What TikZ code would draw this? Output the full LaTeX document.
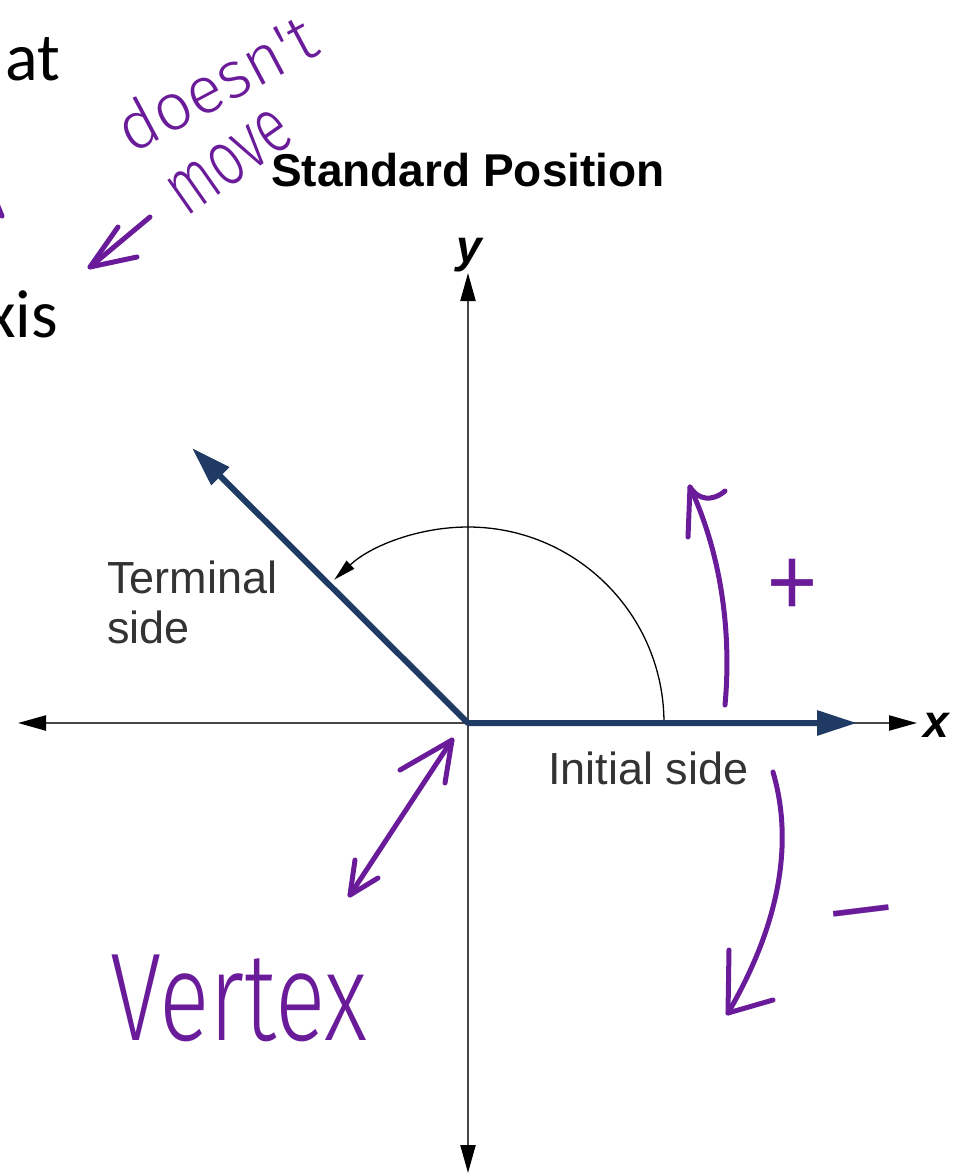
\documentclass[tikz,border=0pt]{standalone}
\usepackage{fontspec}
\setmainfont{Liberation Sans}
\newfontfamily\hand{Fira Sans Light}
\newfontfamily\slide{Carlito}
\usetikzlibrary{arrows.meta}
\definecolor{navy}{HTML}{1F3B63}
\definecolor{pen}{HTML}{6A1B9A}
\definecolor{txtgray}{HTML}{333333}
\begin{document}
\begin{tikzpicture}[x=1pt,y=-1pt,
  axisline/.style={line width=2.2pt, draw=black!72,
     {Triangle[length=28pt,width=15pt,color=black]}-{Triangle[length=28pt,width=15pt,color=black]}},
  sideline/.style={line width=6pt, draw=navy, line join=round,
     {Triangle[length=40pt,width=24pt]}-{Triangle[length=40pt,width=24pt]}},
  anglearc/.style={line width=1.3pt, draw=black, -{Triangle[length=22pt,width=11pt]}},
  axlabel/.style={font=\bfseries\itshape\fontsize{46}{46}\selectfont, inner sep=0pt},
  grylabel/.style={font=\fontsize{45}{54}\selectfont, text=txtgray, inner sep=0pt},
  slidetext/.style={font=\slide\fontsize{68}{80}\selectfont, text=black, inner sep=0pt},
  pen/.style={draw=pen, line width=5pt, line cap=round, line join=round},
  handtext/.style={text=pen, inner sep=0pt}
]
\fill[white] (0,0) rectangle (955,1176);
\path[use as bounding box] (0,0) rectangle (955,1176);

% slide text fragments
\node[slidetext, anchor=base west] (at) at (5,80) {at};
\node[slidetext, anchor=base west] (xis) at (-14,337) {xis};

% title
\node[font=\bfseries\fontsize{46}{46}\selectfont, anchor=base, inner sep=0pt] (title) at (468,186) {Standard Position};

% axes
\coordinate (O) at (468,723);
\coordinate (XL) at (18,723);
\coordinate (XR) at (917,723);
\coordinate (YT) at (468,273);
\coordinate (YB) at (468,1173);
\draw[axisline] (XL) -- (XR);
\draw[axisline] (YB) -- (YT);
\node[axlabel] (ylab) at (469,255) {y};
\node[axlabel] (xlab) at (936,725) {x};

% angle arc
\coordinate (A0) at (664,723);
\draw[anglearc] (A0) arc[start angle=0, end angle=133, radius=196pt];

% terminal and initial sides
\coordinate (T) at (192,448);
\coordinate (I) at (857,723);
\draw[sideline] (T) -- (O) -- (I);

\node[grylabel, anchor=base west] (term1) at (107,593) {Terminal};
\node[grylabel, anchor=base west] (term2) at (107,643) {side};
\node[grylabel, anchor=base west] (init) at (548,784) {Initial side};

% handwritten notes
\node[handtext, font=\hand\fontsize{66}{66}\selectfont, rotate=28, anchor=base west] (doesnt) at (131,155) {doesn't};
\node[handtext, font=\hand\fontsize{56}{56}\selectfont, rotate=35, anchor=base west] (move) at (186,218) {\scalebox{1}[1.4]{move}};
\coordinate (mvtail) at (150,217);
\coordinate (mvtip) at (90,267);
\draw[pen] (mvtail) -- (mvtip);
\draw[pen] (118,227) -- (mvtip) -- (137,257);
\draw[pen] (-3,204) -- (2,216);

% vertex
\coordinate (vtop) at (452,740);
\coordinate (vbot) at (350,895);
\draw[pen] (vbot) -- (vtop);
\draw[pen] (400,770) -- (vtop) -- (445,783);
\draw[pen] (355,860) -- (vbot) -- (378,878);
\node[handtext, font=\hand\fontsize{125}{125}\selectfont, anchor=base west] (vertex) at (110,1040) {\scalebox{0.75}[1]{Vertex}};

% plus direction
\coordinate (ptail) at (725,705);
\coordinate (ptip) at (690,487);
\draw[pen] (ptail) .. controls (731,640) and (724,560) .. (ptip);
\draw[pen] (688,537) -- (ptip) .. controls (698,500) and (712,502) .. (725,491);
\node[handtext, font=\hand\fontsize{112}{112}\selectfont, anchor=base] (plus) at (792,627) {\scalebox{1.05}[1.2]{+}};

% minus direction
\coordinate (mtail) at (773,772);
\coordinate (mtip) at (728,1013);
\draw[pen] (mtail) .. controls (790,830) and (788,910) .. (mtip);
\draw[pen] (729,950) -- (mtip) -- (773,1000);
\node[handtext, font=\hand\fontsize{112}{112}\selectfont, anchor=base, rotate=7] (minus) at (866,948) {\scalebox{1.4}[1]{−}};
\end{tikzpicture}
\end{document}
